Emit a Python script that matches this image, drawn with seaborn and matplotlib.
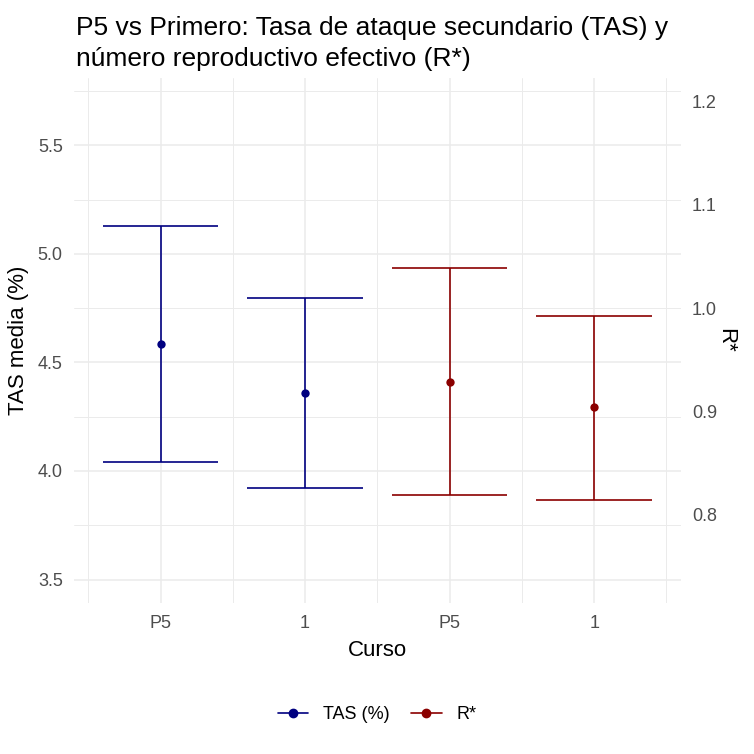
import numpy as np
import pandas as pd
import seaborn as sns
import matplotlib.pyplot as plt
from matplotlib.lines import Line2D
from matplotlib.ticker import FixedLocator

# datos
cursos = ["P5", "1", "P5", "1"]
metricas = ["TAS (%)", "TAS (%)", "R*", "R*"]
media = [4.585, 4.357, 0.928, 0.904]
li = [4.043, 3.921, 0.819, 0.814]
ls = [5.128, 4.797, 1.039, 0.992]
colores = {"TAS (%)": "#000080", "R*": "#8B0000"}
factor = 4.75  # TAS = R* * factor

df = pd.DataFrame({"pos": range(len(cursos)), "curso": cursos, "metrica": metricas,
                   "media": media, "li": li, "ls": ls})

sns.set_theme(style="white")
plt.rcParams["font.family"] = ["Liberation Sans", "DejaVu Sans"]

fig, ax = plt.subplots(figsize=(7.54, 7.54), dpi=100)
fig.subplots_adjust(left=0.098, right=0.903, top=0.8966, bottom=0.1997)
ax2 = ax.twinx()

for axis, met in [(ax, "TAS (%)"), (ax2, "R*")]:
    d = df[df.metrica == met]
    c = colores[met]
    axis.vlines(d.pos, d.li, d.ls, color=c, lw=1.2, zorder=2)
    axis.hlines(d.li, d.pos - 0.4, d.pos + 0.4, color=c, lw=1.2, zorder=2)
    axis.hlines(d.ls, d.pos - 0.4, d.pos + 0.4, color=c, lw=1.2, zorder=2)
    sns.scatterplot(data=d, x="pos", y="media", color=c, s=36, edgecolor=c,
                    linewidth=0, ax=axis, zorder=3, legend=False)

ylo, yhi = 3.39, 5.81
ax.set_ylim(ylo, yhi)
ax2.set_ylim(ylo / factor, yhi / factor)
ax.set_xlim(-0.6, 3.6)

ax.yaxis.set_major_locator(FixedLocator([3.5, 4.0, 4.5, 5.0, 5.5]))
ax.yaxis.set_minor_locator(FixedLocator([3.75, 4.25, 4.75, 5.25, 5.75]))
ax.set_yticklabels(["3.5", "4.0", "4.5", "5.0", "5.5"])
ax.set_xticks(range(len(cursos)))
ax.set_xticklabels(cursos)
ax.xaxis.set_minor_locator(FixedLocator([-0.5, 0.5, 1.5, 2.5, 3.5]))
ax2.set_yticks([0.8, 0.9, 1.0, 1.1, 1.2])
ax2.set_yticklabels(["0.8", "0.9", "1.0", "1.1", "1.2"])

ax.grid(which="major", color="#ebebeb", lw=1.1)
ax.grid(which="minor", color="#ebebeb", lw=0.7)
ax.set_axisbelow(True)
ax2.grid(False)
for a in (ax, ax2):
    for s in a.spines.values():
        s.set_visible(False)
    a.tick_params(which="both", length=0, labelsize=13, colors="#4d4d4d", pad=8)

ax.set_xlabel("Curso", fontsize=16, color="black", labelpad=6)
ax.set_ylabel("TAS media (%)", fontsize=16, color="black", labelpad=6)
ax2.set_ylabel("R*", fontsize=16, color="black", rotation=270, labelpad=14)

fig.text(0.101, 0.979, "P5 vs Primero: Tasa de ataque secundario (TAS) y\nnúmero reproductivo efectivo (R*)",
         fontsize=19, ha="left", va="top", linespacing=1.4, color="black")

handles = [Line2D([0], [0], color=colores[m], marker="o", markersize=6, lw=1.2) for m in ["TAS (%)", "R*"]]
leg = fig.legend(handles, ["TAS (%)", "R*"], loc="center", bbox_to_anchor=(0.5, 0.052), ncol=2,
                 frameon=False, fontsize=13, handlelength=1.7, columnspacing=1.2, handletextpad=0.8)
for t in leg.get_texts():
    t.set_color("black")

fig.savefig("out.png", dpi=100)
